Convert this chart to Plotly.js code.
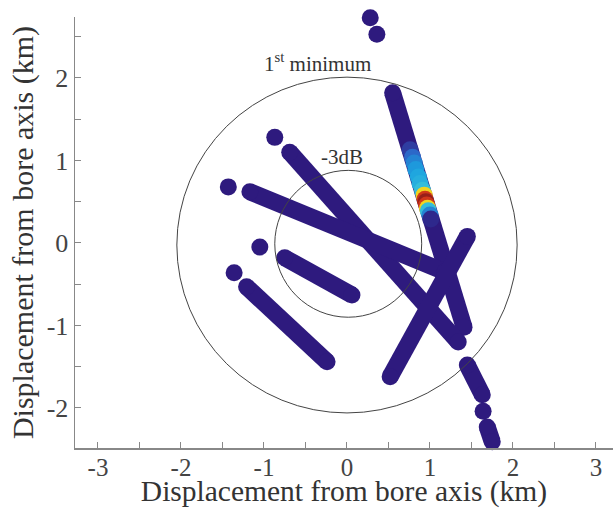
<!DOCTYPE html>
<html>
<head>
<meta charset="utf-8">
<script src="https://cdn.plot.ly/plotly-3.0.1.min.js"></script>
<style>html,body{margin:0;padding:0;background:#fff}#chart{width:613px;height:508px}</style>
</head>
<body>
<div id="chart"></div>
<script>
// Track coordinates (km), null breaks a track into pieces
const trackA_x = [0.28, null, 0.36, null, 0.55, 1.41, null, 1.45, 1.63, null, 1.64, null, 1.69, 1.75];
const trackA_y = [2.73, null, 2.53, null, 1.82, -1.02, null, -1.48, -1.84, null, -2.04, null, -2.23, -2.41];
const trackB_x = [-0.87, null, -0.69, 1.34];
const trackB_y = [1.28, null, 1.10, -1.20];
const trackC_x = [-1.43, null, -1.17, 1.18];
const trackC_y = [0.68, null, 0.62, -0.35];
const trackD_x = [1.45, 0.52];
const trackD_y = [0.08, -1.62];
const trackE_x = [-1.05, null, -0.75, 0.06];
const trackE_y = [-0.05, null, -0.18, -0.63];
const trackF_x = [-1.36, null, -1.21, -0.24];
const trackF_y = [-0.36, null, -0.53, -1.44];

// Detected signal along track A (normalised intensity)
const hot_x = [0.76, 0.79, 0.81, 0.83, 0.86, 0.88, 0.91, 0.93, 0.94, 0.95, 0.96, 0.97, 0.98, 1.00, 1.01];
const hot_y = [1.13, 1.04, 0.97, 0.89, 0.80, 0.72, 0.64, 0.58, 0.53, 0.50, 0.46, 0.42, 0.39, 0.34, 0.29];
const hot_v = [0.15, 0.22, 0.28, 0.33, 0.36, 0.38, 0.42, 0.62, 0.85, 0.97, 0.85, 0.62, 0.42, 0.28, 0.12];

// Beam contours
const beamLabels = ['1<sup>st</sup> minimum', '-3dB'];
const outerCircle = [-2.05, -2.06, 2.05, 2.01];
const innerCircle = [-0.87, -0.90, 0.90, 0.88];

const xTicks = [-3, -2, -1, 0, 1, 2, 3];
const xTickText = ['-3', '-2', '-1', '0', '1', '2', '3'];
const yTicks = [-2, -1, 0, 1, 2];
const yTickText = ['-2', '-1', '0', '1', '2'];

const navy = '#2e1a7e';
const serif = '"Liberation Serif", "Times New Roman", "DejaVu Serif", serif';

function track(x, y) {
  return {
    x: x, y: y, type: 'scatter', mode: 'lines+markers',
    line: {color: navy, width: 17}, marker: {color: navy, size: 17},
    connectgaps: false, cliponaxis: false, hoverinfo: 'skip', showlegend: false
  };
}

const traces = [
  track(trackA_x, trackA_y),
  track(trackB_x, trackB_y),
  track(trackC_x, trackC_y),
  track(trackD_x, trackD_y),
  track(trackE_x, trackE_y),
  track(trackF_x, trackF_y),
  {
    x: hot_x, y: hot_y, type: 'scatter', mode: 'markers', showlegend: false, hoverinfo: 'skip',
    marker: {
      size: 17, color: hot_v, cmin: 0, cmax: 1,
      colorscale: [[0, navy], [0.1, navy], [0.2, '#2f5fc4'], [0.35, '#1ba2e0'], [0.45, '#3ec9d8'],
                   [0.6, '#f2e51f'], [0.8, '#e8401a'], [1, '#8a1a1a']],
      line: {width: 0}
    }
  }
];

const layout = {
  width: 613, height: 508,
  margin: {l: 75, r: 0, t: 17, b: 60},
  paper_bgcolor: '#fff', plot_bgcolor: '#fff',
  font: {family: serif, color: '#333'},
  xaxis: {
    range: [-3.277, 3.205], showgrid: false, zeroline: false,
    showline: true, linecolor: '#888', linewidth: 1.5,
    tickmode: 'array', tickvals: xTicks, ticktext: xTickText,
    ticks: 'inside', ticklen: 6, tickcolor: '#888', tickwidth: 1,
    ticklabelstandoff: -4,
    minor: {dtick: 0.5, tick0: 0, ticks: 'inside', ticklen: 6, tickcolor: '#888', tickwidth: 1, showgrid: false},
    tickfont: {family: serif, size: 25, color: '#444'},
    title: {text: 'Displacement from bore axis (km)', font: {family: serif, size: 29.5, color: '#333'}, standoff: 2}
  },
  yaxis: {
    range: [-2.485, 2.739], showgrid: false, zeroline: false,
    showline: true, linecolor: '#888', linewidth: 1.5,
    tickmode: 'array', tickvals: yTicks, ticktext: yTickText,
    ticks: 'inside', ticklen: 6, tickcolor: '#888', tickwidth: 1,
    minor: {dtick: 0.5, tick0: 0, ticks: 'inside', ticklen: 6, tickcolor: '#888', tickwidth: 1, showgrid: false},
    tickfont: {family: serif, size: 26, color: '#444'},
    title: {text: 'Displacement from bore axis (km)', font: {family: serif, size: 30, color: '#333'}, standoff: 4}
  },
  shapes: [
    {type: 'circle', xref: 'x', yref: 'y', x0: outerCircle[0], y0: outerCircle[1], x1: outerCircle[2], y1: outerCircle[3],
     line: {color: '#444', width: 1}, layer: 'above'},
    {type: 'circle', xref: 'x', yref: 'y', x0: innerCircle[0], y0: innerCircle[1], x1: innerCircle[2], y1: innerCircle[3],
     line: {color: '#444', width: 1}, layer: 'above'}
  ],
  annotations: [
    {x: -0.35, y: 2.19, xref: 'x', yref: 'y', text: beamLabels[0], showarrow: false,
     font: {family: serif, size: 21, color: '#333'}},
    {x: -0.06, y: 1.04, xref: 'x', yref: 'y', text: beamLabels[1], showarrow: false,
     font: {family: serif, size: 21, color: '#333'}}
  ]
};

Plotly.newPlot('chart', traces, layout, {displayModeBar: false, staticPlot: true});
</script>
</body>
</html>
